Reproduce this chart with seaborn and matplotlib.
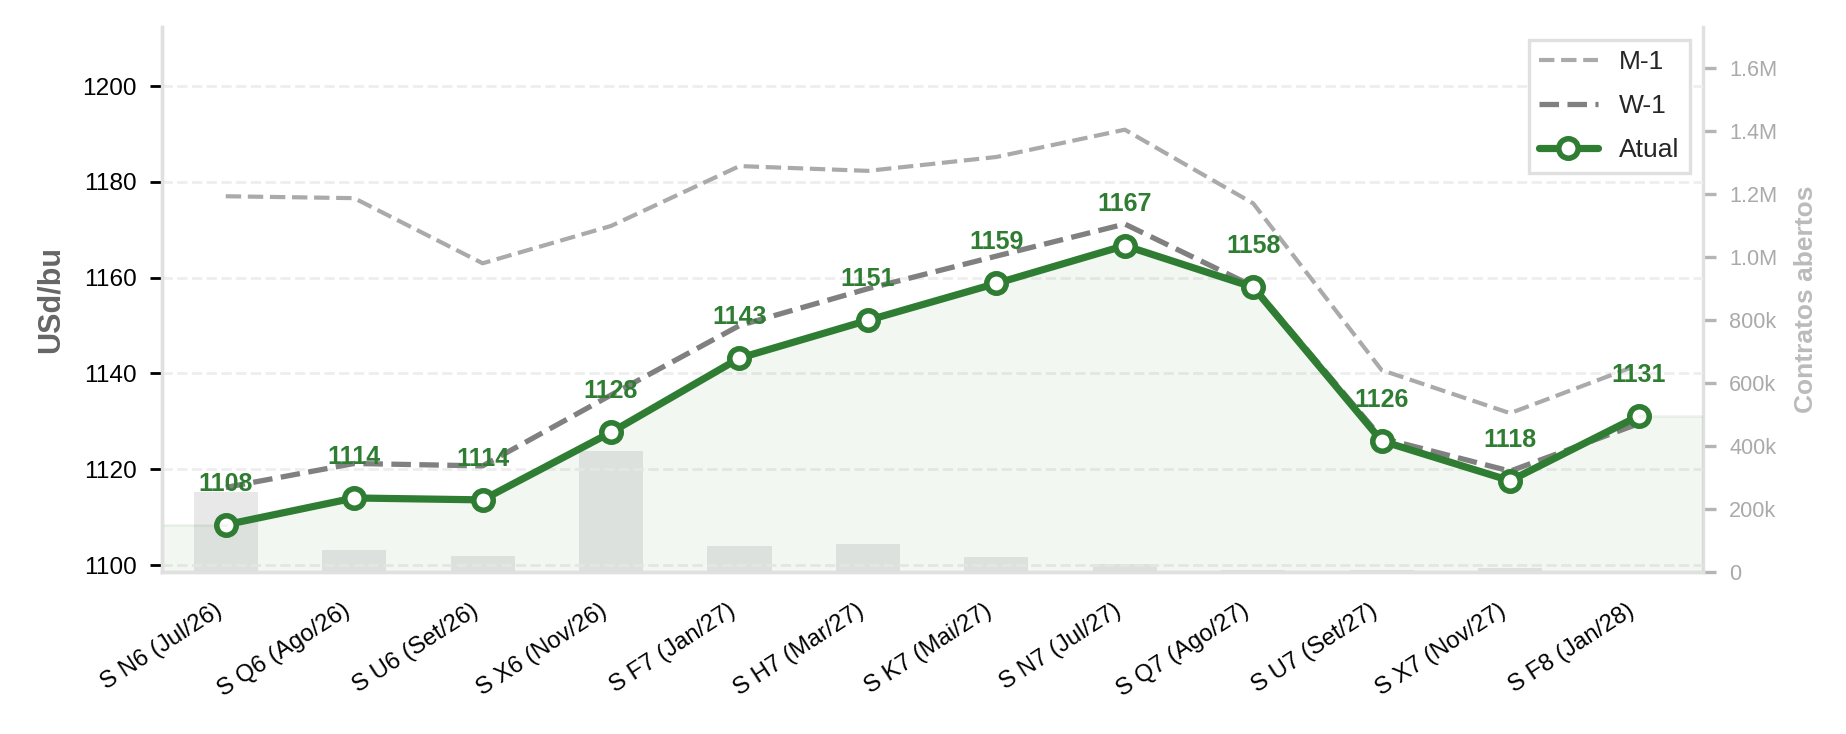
import numpy as np
import matplotlib
matplotlib.use("Agg")
import matplotlib.pyplot as plt
from matplotlib.ticker import FuncFormatter, MultipleLocator
import seaborn as sns

# contracts on the curve
contracts = ["S N6 (Jul/26)", "S Q6 (Ago/26)", "S U6 (Set/26)", "S X6 (Nov/26)",
             "S F7 (Jan/27)", "S H7 (Mar/27)", "S K7 (Mai/27)", "S N7 (Jul/27)",
             "S Q7 (Ago/27)", "S U7 (Set/27)", "S X7 (Nov/27)", "S F8 (Jan/28)"]

# prices in USd/bu
atual = [1108.4, 1114.0, 1113.6, 1127.7, 1143.2, 1151.1, 1158.8, 1166.7, 1158.0, 1125.9, 1117.6, 1131.1]
w_1 = [1116.2, 1121.2, 1120.7, 1135.5, 1150.0, 1157.7, 1164.5, 1171.2, 1158.2, 1126.5, 1119.6, 1129.5]
m_1 = [1177.0, 1176.6, 1163.0, 1170.8, 1183.3, 1182.3, 1185.2, 1190.9, 1175.5, 1140.7, 1131.7, 1141.8]

# open interest (contracts)
open_int = [253000, 70000, 51000, 384000, 83000, 89000, 48000, 25000, 6000, 4000, 12000, 3000]

GREEN = "#2e7d32"

sns.set_theme(style="white")
plt.rcParams["font.family"] = ["Liberation Sans", "DejaVu Sans"]

fig, ax = plt.subplots(figsize=(9.23, 3.67), dpi=200)
fig.subplots_adjust(left=0.0875, right=0.9224, bottom=0.2211, top=0.9636)

ax2 = ax.twinx()
ax.set_zorder(ax2.get_zorder() + 1)
ax.patch.set_visible(False)

# open interest bars in background
sns.barplot(x=contracts, y=open_int, ax=ax2, color="#e8e8e8", width=0.5,
            saturation=1, edgecolor="none")

x = np.arange(len(contracts))
sns.lineplot(x=x, y=m_1, ax=ax, color="#aaaaaa", lw=1.5, linestyle="--", label="M-1")
sns.lineplot(x=x, y=w_1, ax=ax, color="#808080", lw=1.9, linestyle="--", label="W-1")
sns.lineplot(x=x, y=atual, ax=ax, color=GREEN, lw=2.6, marker="o", markersize=7,
             markerfacecolor="white", markeredgecolor=GREEN, markeredgewidth=2, label="Atual")

ymin, ymax = 1098.6, 1212.4
ax.set_ylim(ymin, ymax)
ax.set_xlim(-0.5, len(contracts) - 0.5)

# shaded area under the current curve, carried to the edges
xf = np.concatenate([[-0.5], x, [len(contracts) - 0.5]])
yf = np.concatenate([[atual[0]], atual, [atual[-1]]])
ax.fill_between(xf, yf, ymin, color=GREEN, alpha=0.06, lw=0)
ax.plot(xf[:2], yf[:2], color=GREEN, alpha=0.08, lw=1)
ax.plot(xf[-2:], yf[-2:], color=GREEN, alpha=0.08, lw=1)

for i, v in enumerate(atual):
    ax.annotate(f"{v:.0f}", (i, v), xytext=(0, 10.5), textcoords="offset points",
                ha="center", va="bottom", fontsize=9, fontweight="bold", color=GREEN)

ax.yaxis.set_major_locator(MultipleLocator(20))
ax.grid(axis="y", color="#eeeeee", linestyle="--", lw=1)
ax.set_xticks(x)
ax.set_xticklabels(contracts, rotation=33, ha="right", fontsize=8.6)
ax.tick_params(axis="both", colors="black", length=4.5, width=1, pad=4.5)
ax.tick_params(axis="y", labelsize=8.8)
ax.tick_params(axis="x", pad=5.5)
ax.set_ylabel("USd/bu", fontsize=11, fontweight="bold", color="#666666", labelpad=6)
ax.set_xlabel("")

ax2.set_ylim(0, 1.731e6)
ax2.yaxis.set_major_locator(MultipleLocator(200000))


def fmt_oi(v, pos):
    if v == 0:
        return "0"
    if v >= 1e6:
        return f"{v / 1e6:.1f}M"
    return f"{v / 1e3:.0f}k"


ax2.yaxis.set_major_formatter(FuncFormatter(fmt_oi))
ax2.tick_params(axis="y", colors="#b5b5b5", labelcolor="#aaaaaa", length=4.5, width=1.2,
                pad=5, labelsize=7.8)
ax2.set_ylabel("Contratos abertos", fontsize=9.5, fontweight="bold", color="#bbbbbb", labelpad=6)

for a in (ax, ax2):
    a.spines["top"].set_visible(False)
    for s in ("left", "bottom", "right"):
        a.spines[s].set_color("#e0e0e0")
        a.spines[s].set_linewidth(1.2)
ax.spines["right"].set_visible(False)

leg = ax.legend(loc="upper right", fontsize=9.5, frameon=True, fancybox=False,
                edgecolor="#e0e0e0", framealpha=1, handlelength=2.2, labelspacing=0.75)
leg.get_frame().set_linewidth(1.2)

fig.savefig("out.png", dpi=200)
